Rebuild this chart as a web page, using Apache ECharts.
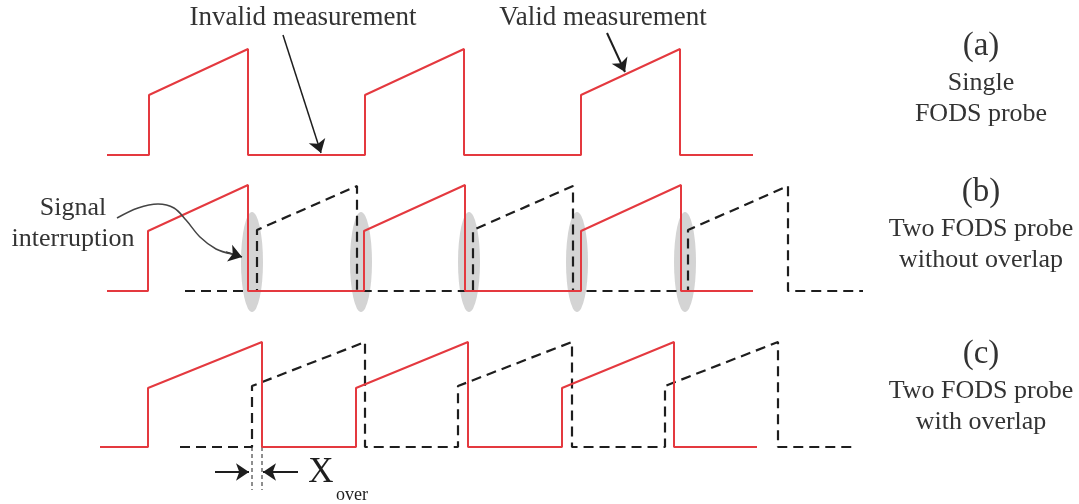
<!DOCTYPE html>
<html>
<head>
<meta charset="utf-8">
<script src="https://cdn.jsdelivr.net/npm/echarts@6/dist/echarts.min.js"></script>
<style>
  html, body { margin: 0; padding: 0; background: #fff; }
  #chart { width: 1079px; height: 504px; }
</style>
</head>
<body>
<div id="chart"></div>
<script>
// waveform vertices, [x, y] in figure pixels (y down)
const probeA = [[107,155],[149,155],[149,95],[248,49],[248,155],[365,155],[365,95],[464,49],[464,155],[581,155],[581,95],[680,49],[680,155],[753,155]];
const probeB1 = [[107,291],[148,291],[148,231],[248,185],[248,291],[364,291],[364,231],[465,185],[465,291],[581,291],[581,231],[681,185],[681,291],[753,291]];
const probeB2 = [[185,291],[257,291],[257,230],[357,186],[357,291],[473,291],[473,230],[573,186],[573,291],[688,291],[688,230],[788,186],[788,291],[863,291]];
const probeC1 = [[100,447],[148,447],[148,388],[262,342],[262,447],[356,447],[356,388],[468,342],[468,447],[562,447],[562,388],[674,342],[674,447],[757,447]];
const probeC2 = [[180,447],[252,447],[252,386],[365,342],[365,447],[458,447],[458,386],[572,342],[572,447],[665,447],[665,386],[778,342],[778,447],[853,447]];

// signal interruption zones (centres)
const gaps = [[252,262],[361,262],[469,262],[577,262],[685,262]];

// annotation arrows
const arrowInvalid = [[283,35],[321,153]];
const arrowValid = [[607,33],[625,72]];
const curveSignal = [[117,218],[138,208],[158,204],[174,208],[186,220],[200,237],[216,249],[232,254]];
const arrowSignalTip = [[226,252],[242,257]];
const xoverLeft = [[252,447],[252,490]];
const xoverRight = [[262,447],[262,490]];
const xoverArrowL = [[215,472],[249,472]];
const xoverArrowR = [[298,472],[263,472]];

const RED = '#e4393f';
const INK = '#1e1e1e';
const TXT = '#333';
const SERIF = '"Liberation Serif", "Times New Roman", serif';

const chart = echarts.init(document.getElementById('chart'), null, { renderer: 'canvas' });

function wave(data, dashed) {
    return {
        type: 'line',
        data: data,
        symbol: 'none',
        z: 3,
        lineStyle: dashed
            ? { color: INK, width: 2.2, type: [10, 6] }
            : { color: RED, width: 2 }
    };
}

function arrow(coords, w) {
    return {
        type: 'lines',
        coordinateSystem: 'cartesian2d',
        z: 4,
        symbol: ['none', 'arrow'],
        symbolSize: 13,
        lineStyle: { color: INK, width: w || 1.5, opacity: 1 },
        data: [{ coords: coords }]
    };
}

function thin(coords) {
    return {
        type: 'line',
        data: coords,
        symbol: 'none',
        z: 2,
        lineStyle: { color: INK, width: 1, type: [4, 3] }
    };
}

function label(text, x, y, size) {
    return {
        type: 'text',
        x: x,
        y: y,
        style: {
            text: text,
            fill: TXT,
            font: size + 'px ' + SERIF,
            align: 'center',
            verticalAlign: 'middle',
            lineHeight: 31
        }
    };
}

const option = {
    animation: false,
    grid: { left: 0, right: 0, top: 0, bottom: 0, containLabel: false },
    xAxis: { type: 'value', min: 0, max: 1079, show: false },
    yAxis: { type: 'value', min: 0, max: 504, inverse: true, show: false },
    series: [
        {
            type: 'scatter',
            data: gaps,
            symbol: 'circle',
            symbolSize: [22, 100],
            z: 1,
            itemStyle: { color: '#d4d4d4', opacity: 1 },
            silent: true
        },
        wave(probeA, false),
        wave(probeB2, true),
        wave(probeB1, false),
        wave(probeC2, true),
        wave(probeC1, false),
        arrow(arrowInvalid),
        arrow(arrowValid, 2),
        {
            type: 'line',
            data: curveSignal,
            smooth: 0.35,
            symbol: 'none',
            z: 4,
            lineStyle: { color: '#444', width: 1.5 }
        },
        arrow(arrowSignalTip),
        thin(xoverLeft),
        thin(xoverRight),
        arrow(xoverArrowL, 2),
        arrow(xoverArrowR, 2)
    ],
    graphic: [
        label('Invalid measurement', 303, 18, 27),
        label('Valid measurement', 603, 18, 27),
        label('Signal\ninterruption', 73, 224, 26),
        label('(a)', 981, 46, 33),
        label('Single\nFODS probe', 981, 99, 26),
        label('(b)', 981, 192, 33),
        label('Two FODS probe\nwithout overlap', 981, 245, 26),
        label('(c)', 981, 354, 33),
        label('Two FODS probe\nwith overlap', 981, 407, 26),
        {
            type: 'text', x: 321, y: 473,
            style: { text: 'X', fill: INK, font: '35px ' + SERIF, align: 'center', verticalAlign: 'middle' }
        },
        {
            type: 'text', x: 352, y: 495,
            style: { text: 'over', fill: INK, font: '18px ' + SERIF, align: 'center', verticalAlign: 'middle' }
        }
    ]
};

chart.setOption(option);
</script>
</body>
</html>
